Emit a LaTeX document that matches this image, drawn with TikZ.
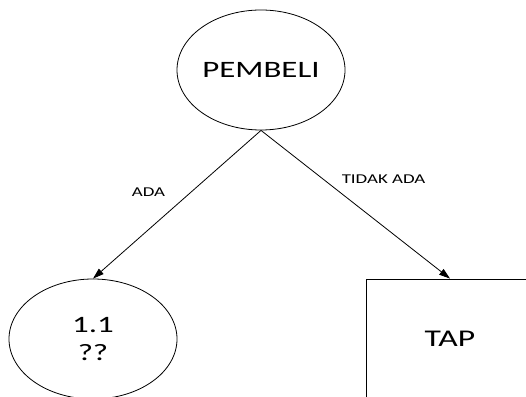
\documentclass[tikz,border=0pt]{standalone}
\usepackage{fontspec}
\setmainfont{Carlito}[FakeStretch=1.4]
\usetikzlibrary{arrows.meta,shapes.geometric}

\begin{document}
\begin{tikzpicture}[x=1pt,y=1pt,line width=0.8pt,
    arj/.style={-{Triangle[length=11pt,width=7pt]}},
    oval/.style={draw,ellipse,minimum width=168pt,minimum height=120pt,inner sep=0pt,font=\fontsize{23.5}{28}\selectfont,align=center},
    box/.style={draw,rectangle,minimum width=168pt,minimum height=120pt,font=\fontsize{24}{28}\selectfont},
    lbl/.style={inner sep=0pt,font=\fontsize{13.5}{16}\selectfont}]
\useasboundingbox (0,0) rectangle (526,396);
\node[oval] (pembeli) at (261,326) {PEMBELI};
\node[oval] (satu) at (93,57) {1.1\\??};
\node[box] (tap) at (450,57) {TAP};
\draw[arj] (pembeli.south) -- node[lbl,pos=0.42,left=25pt] (ada) {ADA} (satu.north);
\draw[arj] (pembeli.south) -- node[lbl,pos=0.33,right=18pt] (tidak) {TIDAK ADA} (tap.north);
\end{tikzpicture}
\end{document}
